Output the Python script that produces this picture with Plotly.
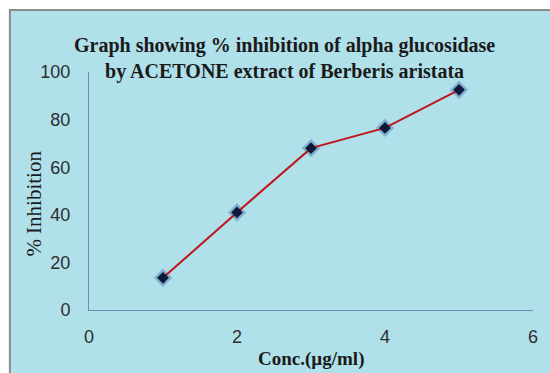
import plotly.graph_objects as go

# Concentration (µg/ml) and % inhibition of alpha glucosidase
conc = [1, 2, 3, 4, 5]
inhibition = [13.5, 41, 68, 76.5, 92.5]

x_ticks = [0, 2, 4, 6]
y_ticks = [0, 20, 40, 60, 80, 100]

W, H = 550, 373
L, R, T, B = 89, 12, 72, 63
pw, ph = W - L - R, H - T - B


def px_x(p):
    return (p - L) / pw


def px_y(p):
    return (H - B - p) / ph


fig = go.Figure()

# soft halo behind the markers
fig.add_trace(go.Scatter(
    x=conc, y=inhibition, mode="markers",
    marker=dict(symbol="diamond", size=14, color="rgba(40,80,160,0.35)"),
    hoverinfo="skip", showlegend=False,
))
fig.add_trace(go.Scatter(
    x=conc, y=inhibition, mode="lines+markers",
    line=dict(color="#c0141c", width=2),
    marker=dict(symbol="diamond", size=9, color="#0c1a3a"),
    showlegend=False,
))

# aqua chart panel with grey frame
fig.add_shape(type="rect", xref="paper", yref="paper", layer="below",
              x0=px_x(9), x1=px_x(W + 10), y0=px_y(H + 10), y1=px_y(10),
              fillcolor="#b0e0e9", line=dict(color="#8c8c8c", width=2))

serif = "Liberation Serif"
fig.add_annotation(
    text="Graph showing % inhibition of alpha glucosidase<br>by ACETONE extract of Berberis aristata",
    xref="paper", yref="paper", x=px_x(287), y=px_y(59),
    xanchor="center", yanchor="middle", showarrow=False, align="center",
    font=dict(family=serif, size=20, color="#1a1a1a", weight="bold"),
)
fig.add_annotation(
    text="Conc.(µg/ml)", xref="paper", yref="paper",
    x=px_x(313), y=px_y(371), xanchor="center", yanchor="bottom",
    showarrow=False, borderpad=0,
    font=dict(family=serif, size=19, color="#1a1a1a", weight="bold"),
)
fig.add_annotation(
    text="% Inhibition", xref="paper", yref="paper", textangle=-90,
    x=px_x(33), y=px_y(204), xanchor="center", yanchor="middle",
    showarrow=False,
    font=dict(family=serif, size=21, color="#1a1a1a"),
)

fig.update_layout(
    width=W, height=H,
    margin=dict(l=L, r=R, t=T, b=B),
    paper_bgcolor="white",
    plot_bgcolor="rgba(0,0,0,0)",
    font=dict(family="Liberation Sans", size=18, color="#2e2e2e"),
)

fig.update_xaxes(
    range=[0, 6], tickvals=x_ticks, showgrid=False, zeroline=False,
    showline=True, linecolor="#6f8fb0", linewidth=1,
    ticks="", ticklabelstandoff=10,
)
fig.update_yaxes(
    range=[0, 100], tickvals=y_ticks, showgrid=False, zeroline=False,
    showline=True, linecolor="#6f8fb0", linewidth=1,
    ticks="", ticklabelstandoff=14,
)

fig.write_html("out.html")
